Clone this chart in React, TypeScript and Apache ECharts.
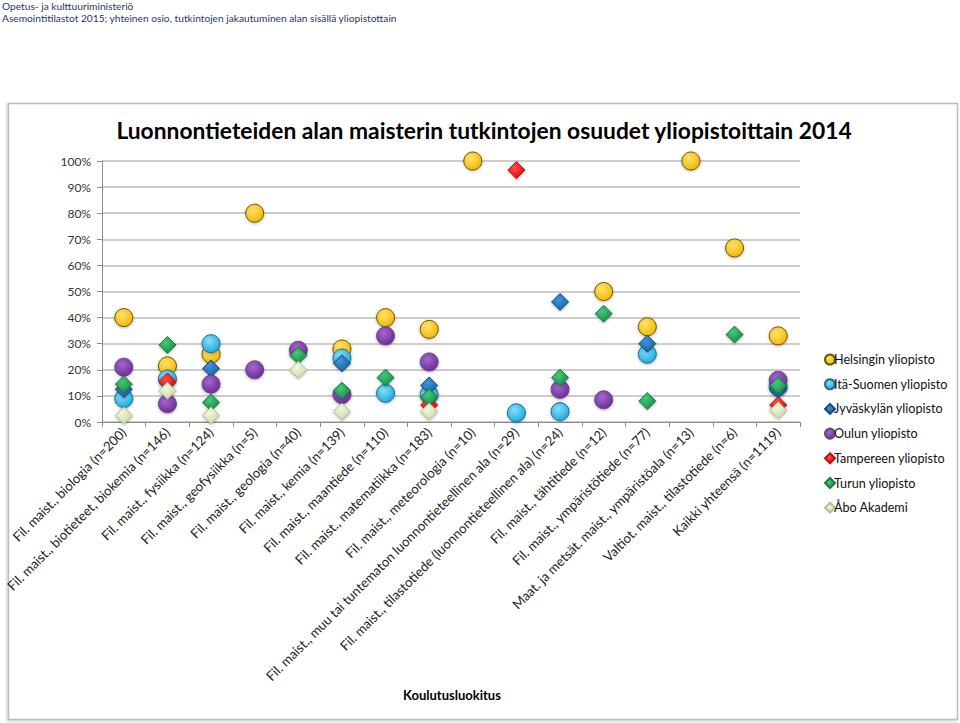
import React, { useEffect, useRef } from "react";
import * as echarts from "echarts";

const categories = [
  "Fil. maist., biologia (n=200)",
  "Fil. maist., biotieteet, biokemia (n=146)",
  "Fil. maist., fysiikka (n=124)",
  "Fil. maist., geofysiikka (n=5)",
  "Fil. maist., geologia (n=40)",
  "Fil. maist., kemia (n=139)",
  "Fil. maist., maantiede (n=110)",
  "Fil. maist., matematiikka (n=183)",
  "Fil. maist., meteorologia (n=10)",
  "Fil. maist., muu tai tuntematon luonnontieteellinen ala (n=29)",
  "Fil. maist., tilastotiede (luonnontieteellinen ala) (n=24)",
  "Fil. maist., tähtitiede (n=12)",
  "Fil. maist., ympäristötiede (n=77)",
  "Maat. ja metsät. maist., ympäristöala (n=13)",
  "Valtiot. maist., tilastotiede (n=6)",
  "Kaikki yhteensä (n=1119)",
];

const yTicks = [0, 10, 20, 30, 40, 50, 60, 70, 80, 90, 100];

const helsinki = [40, 21.5, 26, 80, null, 28, 40, 35.5, 100, null, null, 50, 36.5, 100, 66.7, 33];
const itaSuomi = [9, 16.5, 30, null, null, 24.5, 11, 10.5, null, 3.5, 4, null, 26, null, null, 13.5];
const jyvaskyla = [12.5, null, 20.5, null, null, 22.5, null, 14, null, null, 46, null, 30, null, null, 12.5];
const oulu = [21, 7, 14.5, 20, 27.5, 10.5, 33, 23, null, null, 12.5, 8.5, null, null, null, 16];
const tampere = [null, 15.5, null, null, null, null, null, 6.5, null, 96.5, null, null, null, null, null, 6.5];
const turku = [14.5, 29.5, 7.5, null, 25.5, 12, 17, 9.5, null, null, 17, 41.5, 8, null, 33.5, 14];
const abo = [2.5, 12, 2.5, null, 20, 4, null, 4, null, null, null, null, null, null, null, 4.5];

const seriesNames = [
  "Helsingin yliopisto",
  "Itä-Suomen yliopisto",
  "Jyväskylän yliopisto",
  "Oulun yliopisto",
  "Tampereen yliopisto",
  "Turun yliopisto",
  "Åbo Akademi",
];

const FONT = "Lato, 'Open Sans', sans-serif";

function grad(light: string, dark: string) {
  return {
    type: "radial",
    x: 0.4,
    y: 0.35,
    r: 0.7,
    colorStops: [
      { offset: 0, color: light },
      { offset: 1, color: dark },
    ],
  };
}

export default function App() {
  const ref = useRef<HTMLDivElement>(null);
  useEffect(() => {
    if (!ref.current) return;
    const chart = echarts.init(ref.current, null, { renderer: "svg" });
    const styles = [
      { data: helsinki, symbol: "circle", size: 18, color: grad("#FFE36A", "#F2B500"), border: "#6B5700" },
      { data: itaSuomi, symbol: "circle", size: 18, color: grad("#86DDFB", "#17A8DE"), border: "#1F7088" },
      { data: jyvaskyla, symbol: "diamond", size: 17, color: grad("#3F95DB", "#155FA8"), border: "#1B4872" },
      { data: oulu, symbol: "circle", size: 18, color: grad("#A468CF", "#6A2A98"), border: "#6A4A7A" },
      { data: tampere, symbol: "diamond", size: 17, color: grad("#FF5050", "#E00000"), border: "#C01010" },
      { data: turku, symbol: "diamond", size: 17, color: grad("#45C878", "#158C46"), border: "#1E7A44" },
      { data: abo, symbol: "diamond", size: 17, color: grad("#F2F6E2", "#C8D8A2"), border: "#B4C090" },
    ];
    const option: any = {
      animation: false,
      backgroundColor: "#ffffff",
      graphic: [
        {
          type: "rect",
          shape: { x: 8.5, y: 103.5, width: 949, height: 616 },
          style: { fill: "#ffffff", stroke: "#BDBDBD", lineWidth: 1.5, shadowColor: "rgba(0,0,0,0.25)", shadowBlur: 2, shadowOffsetX: -1, shadowOffsetY: 1 },
          z: -10,
        },
        {
          type: "text",
          x: 2,
          y: 1,
          style: { text: "Opetus- ja kulttuuriministeriö", font: `10.2px ${FONT}`, fill: "#1F3864" },
        },
        {
          type: "text",
          x: 2,
          y: 13,
          style: {
            text: "Asemointitilastot 2015; yhteinen osio, tutkintojen jakautuminen alan sisällä yliopistottain",
            font: `10.2px ${FONT}`,
            fill: "#1F3864",
          },
        },
        {
          type: "text",
          x: 484,
          y: 130,
          style: {
            text: "Luonnontieteiden alan maisterin tutkintojen osuudet yliopistoittain 2014",
            font: `bold 22.8px ${FONT}`,
            fill: "#000000",
            textAlign: "center",
            textVerticalAlign: "middle",
          },
        },
        {
          type: "text",
          x: 452,
          y: 695,
          style: {
            text: "Koulutusluokitus",
            font: `bold 13px ${FONT}`,
            fill: "#000000",
            textAlign: "center",
            textVerticalAlign: "middle",
          },
        },
      ],
      grid: { left: 102, right: 160, top: 161, bottom: 301, containLabel: false },
      legend: {
        orient: "vertical",
        left: 819,
        top: 348,
        itemWidth: 10,
        itemHeight: 10,
        itemGap: 11.7,
        textStyle: { fontFamily: FONT, fontSize: 12.6, color: "#111", padding: [0, 0, 0, -6] },
        data: seriesNames,
      },
      xAxis: {
        type: "category",
        data: categories,
        boundaryGap: true,
        axisLine: { show: true, lineStyle: { color: "#8C8C8C", width: 1 } },
        axisTick: { show: true, alignWithLabel: false, length: 5, lineStyle: { color: "#8C8C8C" } },
        axisLabel: { interval: 0, rotate: 45, margin: 8, fontFamily: FONT, fontSize: 13.2, color: "#222" },
        splitLine: { show: false },
      },
      yAxis: {
        type: "value",
        min: 0,
        max: 100,
        interval: 10,
        axisLine: { show: true, lineStyle: { color: "#8C8C8C", width: 1 } },
        axisTick: { show: true, length: 5, lineStyle: { color: "#8C8C8C" } },
        axisLabel: {
          fontFamily: FONT,
          fontSize: 12,
          color: "#333",
          margin: 11,
          formatter: (v: number) => (yTicks.includes(v) ? v + "%" : ""),
        },
        splitLine: { show: true, lineStyle: { color: "#BDBDBD", width: 1.5 } },
      },
      series: styles.map((s, i) => ({
        name: seriesNames[i],
        type: "scatter",
        symbol: s.symbol,
        symbolSize: s.size,
        data: s.data,
        itemStyle: {
          color: s.color,
          borderColor: s.border,
          borderWidth: 1,
          opacity: 1,
          shadowColor: "rgba(0,0,0,0.3)",
          shadowBlur: 3,
          shadowOffsetY: 1,
        },
        emphasis: { disabled: true },
      })),
    };
    chart.setOption(option);
    return () => chart.dispose();
  }, []);
  return (
    <div
      ref={ref}
      style={{ position: "fixed", left: 0, top: 0, width: 960, height: 723 }}
    />
  );
}
